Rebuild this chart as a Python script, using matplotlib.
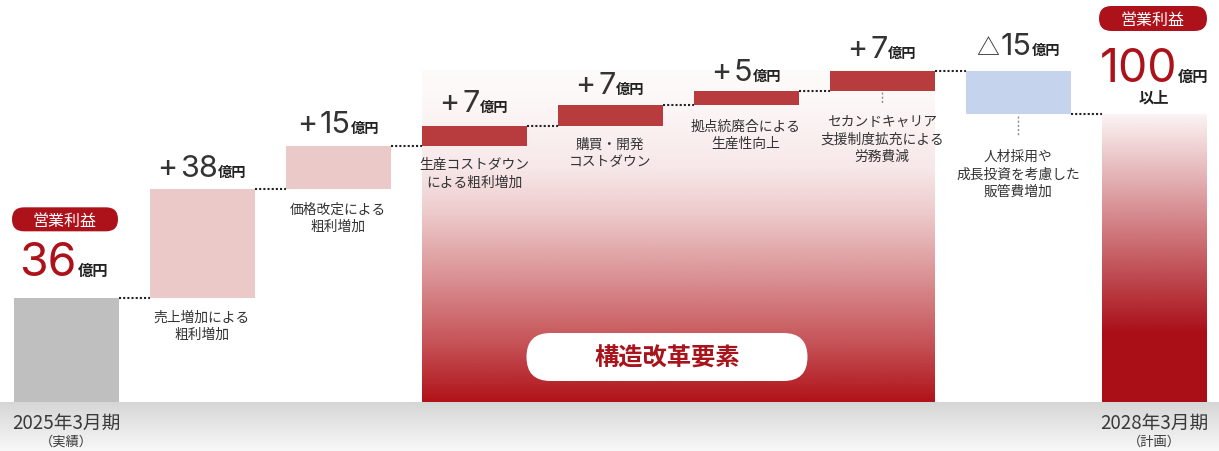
import numpy as np
import matplotlib
matplotlib.use("Agg")
import matplotlib.pyplot as plt
from matplotlib.patches import FancyBboxPatch
from matplotlib.transforms import IdentityTransform
from matplotlib.colors import to_rgb

plt.rcParams['font.family'] = ['Noto Sans CJK JP', 'DejaVu Sans']

# ---------------- data ----------------
steps = ["2025年3月期", "売上増加", "価格改定", "生産コストダウン", "購買・開発",
         "拠点統廃合", "セカンドキャリア", "販管費増加", "2028年3月期"]
values = [36, 38, 15, 7, 7, 5, 7, -15, 100]
kinds = ["total", "gain", "gain", "reform", "reform", "reform", "reform", "loss", "total"]
value_signs = ["", "+", "+", "+", "+", "+", "+", "△", ""]
descriptions = [
    "",
    "売上増加による\n粗利増加",
    "価格改定による\n粗利増加",
    "生産コストダウン\nによる粗利増加",
    "購買・開発\nコストダウン",
    "拠点統廃合による\n生産性向上",
    "セカンドキャリア\n支援制度拡充による\n労務費減",
    "人材採用や\n成長投資を考慮した\n販管費増加",
    "",
]
period_labels = ["2025年3月期", "2028年3月期"]
period_notes = ["（実績）", "（計画）"]
total_tag = "営業利益"
reform_tag = "構造改革要素"
unit = "億円"
final_suffix = "以上"

# ---------------- style ----------------
RED = "#ad1119"
DARK = "#333333"
NUMFONT = ["Inter", "DejaVu Sans"]
colors = {"total": "#bfbfbf", "gain": "#ebc9c9", "reform": "#b83c3e", "loss": "#c5d4ec"}
W, H = 1219, 452
PX = 2.88            # pixels per 億円
BASE = 49            # pixels of band below baseline
X0, STEP = 66, 136   # pixel centre of first bar, spacing
BW = 105 / STEP

fig = plt.figure(figsize=(W / 100, H / 100), dpi=100)
ax = fig.add_axes([0, 0, 1, 1])
ax.set_xlim(-X0 / STEP, (W - X0) / STEP)
ax.set_ylim(-BASE / PX, (H - BASE) / PX)
ax.axis("off")

# ---------------- waterfall geometry ----------------
n = len(values)
xs = np.arange(n)
bottoms, heights, levels = [], [], []
run = 0
for v, k in zip(values, kinds):
    if k == "total":
        bottoms.append(0); heights.append(v); run = v
    elif v >= 0:
        bottoms.append(run); heights.append(v); run += v
    else:
        bottoms.append(run + v); heights.append(-v); run += v
    levels.append(run)
tops = [b + h for b, h in zip(bottoms, heights)]

# ---------------- gray ground band ----------------
y0, y1 = ax.get_ylim()
x0, x1 = ax.get_xlim()
N = 200
g = np.linspace(0, 1, N)
c_top, c_bot = np.array(to_rgb("#d6d6d6")), np.array(to_rgb("#f8f8f8"))
band = (c_top[None, :] * (1 - g[:, None]) + c_bot[None, :] * g[:, None])[:, None, :]
ax.imshow(band, extent=(x0, x1, y0, 0), aspect="auto", zorder=0.5, interpolation="bilinear")

# ---------------- structural reform panel ----------------
reform_idx = [i for i, k in enumerate(kinds) if k == "reform"]
pl, pr = reform_idx[0] - BW / 2, reform_idx[-1] + BW / 2
ptop = max(tops[i] for i in reform_idx)
ys = np.linspace(ptop, 0, N)
alpha = np.interp(ys, [0, 19.4, 42.7, 66, 80.9, 108, 200], [1, 0.74, 0.47, 0.22, 0.10, 0.025, 0.0])
rgba = np.zeros((N, 1, 4))
rgba[:, 0, :3] = to_rgb("#b01218")
rgba[:, 0, 3] = alpha
ax.imshow(rgba, extent=(pl, pr, 0, ptop), aspect="auto", zorder=0.8, interpolation="bilinear")

# ---------------- bars ----------------
bars = ax.bar(xs, heights, bottom=bottoms, width=BW,
              color=[colors[k] for k in kinds], zorder=2, linewidth=0)
# final bar gradient
fb = bars[-1]
fb.set_facecolor("none")
ys = np.linspace(tops[-1], 0, N)
frac = ys / tops[-1]
rgba = np.zeros((N, 1, 4))
rgba[:, 0, :3] = to_rgb("#aa0f18")
rgba[:, 0, 3] = np.interp(frac, [0, 0.243, 1], [1, 1, 0.05])
im = ax.imshow(rgba, extent=(xs[-1] - BW / 2, xs[-1] + BW / 2, 0, tops[-1]),
               aspect="auto", zorder=2.1, interpolation="bilinear")
im.set_clip_path(fb)

# ---------------- connectors ----------------
for i in range(n - 1):
    ax.plot([xs[i] + BW / 2, xs[i + 1] - BW / 2], [levels[i], levels[i]],
            color="#222222", lw=1.5, linestyle=(0, (1, 1)), dash_capstyle="butt", zorder=3)

# ---------------- helpers ----------------
renderer = fig.canvas.get_renderer()

def composite(x, y, parts, dy, dx=0):
    anns = []
    for txt, kw, gap, rise in parts:
        a = ax.annotate(txt, xy=(x, y), xycoords="data", xytext=(0, dy + rise),
                        textcoords="offset pixels", ha="left", va="baseline", zorder=6, **kw)
        anns.append((a, gap, rise))
    widths = [a.get_window_extent(renderer).width for a, _, _ in anns]
    total = sum(widths) + sum(gp for _, gp, _ in anns[:-1])
    cur = -total / 2 + dx
    for (a, gp, rise), w in zip(anns, widths):
        a.xyann = (cur, dy + rise)
        cur += w + gp

def pill(x, y, dx, dy, w, h, fc, text, tcolor, size, weight="normal"):
    X, Y = ax.transData.transform((x, y))
    X += dx; Y += dy
    p = FancyBboxPatch((X - w / 2, Y - h / 2), w, h,
                       boxstyle=f"round,pad=0,rounding_size={h / 2}",
                       transform=IdentityTransform(), fc=fc, ec="none", zorder=5)
    ax.add_patch(p)
    ax.annotate(text, xy=(x, y), xytext=(dx, dy - 1), textcoords="offset pixels",
                ha="center", va="center", color=tcolor, fontsize=size,
                fontweight=weight, zorder=6)

unit_kw = dict(fontsize=10.3, fontweight="bold", color="#222222")
num_kw = dict(fontsize=22, color=DARK, family=NUMFONT)
sign_kw = {"+": dict(fontsize=22, color=DARK, family=NUMFONT),
           "△": dict(fontsize=16.5, color=DARK)}
sign_gap = {"+": 3, "△": 2}

# ---------------- value labels ----------------
label_gap = [0, 13, 14, 15, 12, 11, 14, 17, 0]
for i in range(1, n - 1):
    sign = value_signs[i]
    num = str(abs(values[i]))
    composite(xs[i], tops[i],
              [(sign, sign_kw[sign], sign_gap[sign], 0), (num, num_kw, 0, 0), (unit, unit_kw, 0, 0)],
              dy=label_gap[i])

# start / end totals
big_kw = dict(fontsize=33.5, color=RED, family=NUMFONT)
big_unit = dict(fontsize=11, fontweight="bold", color="#222222")
composite(xs[0], tops[0], [(str(values[0]), big_kw, 1, 0), (unit, big_unit, 0, 0)], dy=23, dx=-2)
pill(xs[0], tops[0], -1, 79, 106, 24, RED, total_tag, "white", 11.5)

composite(xs[-1], tops[-1], [(str(values[-1]), big_kw, 1, 0), (unit, big_unit, 0, 0)], dy=33)
ax.annotate(final_suffix, xy=(xs[-1], tops[-1]), xytext=(0, 17), textcoords="offset pixels",
            ha="center", va="center", fontsize=11, fontweight="bold", color="#222222", zorder=6)
pill(xs[-1], tops[-1], -1, 95.5, 108, 25, RED, total_tag, "white", 11.5)

# ---------------- descriptions ----------------
first_off = [0, 18, 20, 18.5, 18, 20, 30, 42, 0]
LS = 17.4
for i, d in enumerate(descriptions):
    if not d:
        continue
    for j, line in enumerate(d.split("\n")):
        ax.annotate(line, xy=(xs[i], bottoms[i]), xytext=(0, -(first_off[i] + j * LS)),
                    textcoords="offset pixels", ha="center", va="center",
                    fontsize=9.9, color=DARK, zorder=6)

# small dotted leaders
for i, (a, b) in {6: (1, 13), 7: (2, 22)}.items():
    ax.plot([xs[i], xs[i]], [bottoms[i] - a / PX, bottoms[i] - b / PX], color="#8a8a8a",
            lw=1.0, linestyle=(0, (1.5, 1.5)), zorder=3)

# ---------------- reform tag ----------------
pill((pl + pr) / 2, 0, -11, 45, 281, 48, "white", reform_tag, "#a8141c", 17.5, "bold")

# ---------------- period labels ----------------
for i, lab, note in [(0, period_labels[0], period_notes[0]), (n - 1, period_labels[1], period_notes[1])]:
    ax.annotate(lab, xy=(xs[i], 0), xytext=(0, -20.5), textcoords="offset pixels",
                ha="center", va="center", fontsize=13.5, color="#3a3a3a", zorder=6)
    ax.annotate(note, xy=(xs[i], 0), xytext=(0, -39.5), textcoords="offset pixels",
                ha="center", va="center", fontsize=9.5, color="#3a3a3a", zorder=6)

fig.savefig("out.png", dpi=100)
